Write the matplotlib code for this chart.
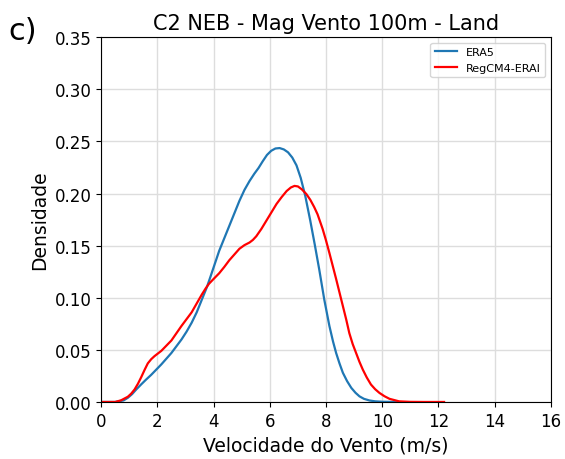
import matplotlib
matplotlib.use("Agg")
import matplotlib.pyplot as plt

# ERA5 (blue) density curve
era5_x = [0.0, 0.5, 0.8, 0.95, 1.1, 1.25, 1.43, 1.6, 1.78, 1.96, 2.14, 2.32, 2.5, 2.68,
          2.86, 3.04, 3.22, 3.4, 3.58, 3.76, 3.9, 4.05, 4.2, 4.38, 4.56, 4.74, 4.92, 5.1,
          5.28, 5.45, 5.6, 5.75, 5.9, 6.05, 6.2, 6.35, 6.5, 6.65, 6.8, 6.95, 7.1, 7.26,
          7.44, 7.6, 7.76, 7.94, 8.12, 8.25, 8.36, 8.48, 8.6, 8.75, 8.9, 9.05, 9.19,
          9.35, 9.55, 9.75, 10.0, 10.5]
era5_y = [0.0, 0.0, 0.0015, 0.004, 0.0075, 0.012, 0.017, 0.0215, 0.026, 0.031, 0.036,
          0.0415, 0.047, 0.0535, 0.060, 0.0675, 0.076, 0.086, 0.098, 0.110, 0.121, 0.133,
          0.145, 0.157, 0.169, 0.181, 0.193, 0.2035, 0.212, 0.219, 0.2245, 0.231, 0.237,
          0.241, 0.2432, 0.2436, 0.2423, 0.2395, 0.2345, 0.227, 0.215, 0.198, 0.174,
          0.151, 0.127, 0.098, 0.073, 0.058, 0.047, 0.037, 0.028, 0.020, 0.0135, 0.0088,
          0.0054, 0.003, 0.0014, 0.0006, 0.0002, 0.0]

# RegCM4-ERAI (red) density curve
reg_x = [0.0, 0.5, 0.71, 0.95, 1.07, 1.19, 1.31, 1.43, 1.55, 1.66, 1.78, 1.9, 2.02, 2.14,
         2.32, 2.5, 2.68, 2.86, 3.04, 3.22, 3.4, 3.58, 3.72, 3.84, 4.0, 4.2, 4.38, 4.56,
         4.74, 4.92, 5.1, 5.28, 5.4, 5.52, 5.7, 5.88, 6.06, 6.24, 6.42, 6.6, 6.75, 6.88,
         7.0, 7.14, 7.3, 7.44, 7.58, 7.7, 7.88, 8.0, 8.12, 8.24, 8.36, 8.48, 8.6, 8.72,
         8.83, 8.95, 9.07, 9.19, 9.31, 9.45, 9.6, 9.75, 9.9, 10.08, 10.26, 10.6, 11.0,
         11.5, 12.2]
reg_y = [0.0, 0.0, 0.0016, 0.005, 0.008, 0.012, 0.0175, 0.024, 0.031, 0.037, 0.041,
         0.044, 0.0465, 0.049, 0.054, 0.059, 0.066, 0.073, 0.0795, 0.086, 0.0945, 0.103,
         0.109, 0.1135, 0.118, 0.1235, 0.1295, 0.136, 0.1415, 0.147, 0.1505, 0.153,
         0.1555, 0.159, 0.166, 0.174, 0.182, 0.190, 0.1965, 0.2024, 0.2058, 0.2073,
         0.2068, 0.204, 0.1995, 0.194, 0.187, 0.180, 0.166, 0.155, 0.143, 0.1305, 0.118,
         0.105, 0.092, 0.079, 0.066, 0.0555, 0.047, 0.0385, 0.031, 0.0235, 0.0167,
         0.0122, 0.0087, 0.0055, 0.003, 0.0006, 0.0001, 0.0, 0.0]

x_ticks = [0, 2, 4, 6, 8, 10, 12, 14, 16]
y_ticks = [0.00, 0.05, 0.10, 0.15, 0.20, 0.25, 0.30, 0.35]

fig = plt.figure(figsize=(5.65, 4.6), dpi=100)
ax = fig.add_axes([0.179, 0.124, 0.796, 0.793])

ax.plot(era5_x, era5_y, color="#1f77b4", lw=1.6, label="ERA5")
ax.plot(reg_x, reg_y, color="red", lw=1.6, label="RegCM4-ERAI")

ax.set_xlim(0, 16)
ax.set_ylim(0, 0.35)
ax.set_xticks(x_ticks)
ax.set_yticks(y_ticks)
ax.set_yticklabels([f"{v:.2f}" for v in y_ticks])
ax.tick_params(labelsize=12)
ax.grid(True, color="#dddddd", lw=1.0)
ax.set_axisbelow(True)

ax.set_xlabel("Velocidade do Vento (m/s)", fontsize=13.5)
ax.set_ylabel("Densidade", fontsize=13.5)
ax.set_title("C2 NEB - Mag Vento 100m - Land", fontsize=15)
fig.text(0.014, 0.962, "c)", fontsize=22, va="top", ha="left")

ax.legend(loc="upper right", fontsize=8)

fig.savefig("out.png", dpi=100)
